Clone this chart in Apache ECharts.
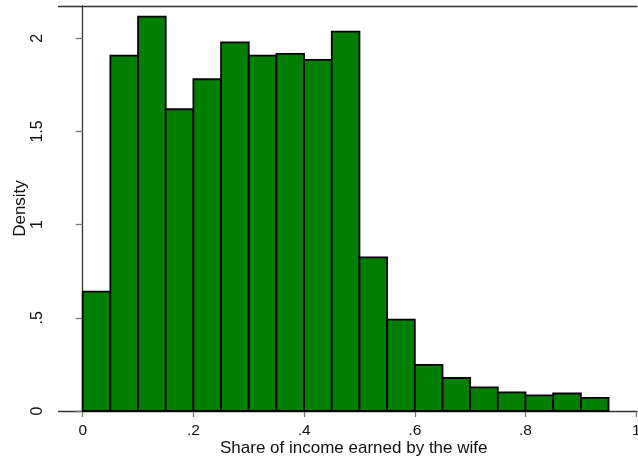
<!DOCTYPE html>
<html>
<head>
<meta charset="utf-8">
<script src="https://cdn.jsdelivr.net/npm/echarts@6/dist/echarts.min.js"></script>
<style>html,body{margin:0;padding:0;background:#fff;}#c{width:638px;height:461px;}</style>
</head>
<body>
<div id="c"></div>
<script>
var binStarts = [0, 0.05, 0.10, 0.15, 0.20, 0.25, 0.30, 0.35, 0.40, 0.45, 0.50, 0.55, 0.60, 0.65, 0.70, 0.75, 0.80, 0.85, 0.90];
var binWidth = 0.05;
var densities = [0.641, 1.907, 2.116, 1.619, 1.780, 1.978, 1.907, 1.916, 1.884, 2.035, 0.824, 0.490, 0.248, 0.177, 0.127, 0.100, 0.084, 0.094, 0.070];
var xTicks = [0, 0.2, 0.4, 0.6, 0.8, 1];
var xTickLabels = ['0', '.2', '.4', '.6', '.8', '1'];
var yTicks = [0, 0.5, 1, 1.5, 2];
var yTickLabels = ['0', '.5', '1', '1.5', '2'];
var xTitle = 'Share of income earned by the wife';
var yTitle = 'Density';

var data = binStarts.map(function (s, i) { return [s, s + binWidth, densities[i]]; });
function lab(vals, labels) { return function (v) { for (var i = 0; i < vals.length; i++) { if (Math.abs(vals[i] - v) < 1e-9) return labels[i]; } return ''; }; }

var chart = echarts.init(document.getElementById('c'), null, {renderer: 'canvas'});
var font = '"Liberation Sans", Arial, sans-serif';
chart.setOption({
  animation: false,
  backgroundColor: '#fff',
  grid: {left: 58.5, right: 1, top: 6, bottom: 50, containLabel: false, outerBoundsMode: 'none'},
  xAxis: [{
    type: 'value', min: -0.0437, max: 1.0014,
    splitLine: {show: false},
    axisLine: {show: true, onZero: false, lineStyle: {color: '#333', width: 1.3}},
    axisTick: {show: true, length: 6, customValues: xTicks, lineStyle: {color: '#777', width: 1.3}},
    axisLabel: {customValues: xTicks, formatter: lab(xTicks, xTickLabels), margin: 12, fontSize: 15.5, color: '#111', fontFamily: font, hideOverlap: false},
    name: xTitle, nameLocation: 'middle', nameGap: 29, nameMoveOverlap: false,
    nameTextStyle: {fontSize: 17, color: '#111', fontFamily: font, padding: [0, 0, 0, 12]}
  }, {
    type: 'value', position: 'top', min: -0.0437, max: 1.0014,
    splitLine: {show: false}, axisTick: {show: false}, axisLabel: {show: false},
    axisLine: {show: true, onZero: false, lineStyle: {color: '#333', width: 1.3}}
  }],
  yAxis: {
    type: 'value', min: 0, max: 2.173,
    splitLine: {show: false},
    axisLine: {show: true, lineStyle: {color: '#333', width: 1.3}},
    axisTick: {show: true, length: 7, customValues: yTicks, lineStyle: {color: '#777', width: 1.3}},
    axisLabel: {customValues: yTicks, formatter: lab(yTicks, yTickLabels), rotate: 90, margin: 13, fontSize: 16, color: '#111', fontFamily: font},
    name: yTitle, nameLocation: 'middle', nameGap: 30, nameRotate: 90, nameMoveOverlap: false,
    nameTextStyle: {fontSize: 17, color: '#111', fontFamily: font}
  },
  series: [{
    type: 'custom',
    xAxisIndex: 0,
    data: data,
    renderItem: function (params, api) {
      var p0 = api.coord([api.value(0), api.value(2)]);
      var p1 = api.coord([api.value(1), 0]);
      return {
        type: 'rect',
        shape: {x: p0[0], y: p0[1], width: p1[0] - p0[0], height: p1[1] - p0[1]},
        style: {fill: '#007f00', stroke: '#000', lineWidth: 1.8}
      };
    }
  }]
});
</script>
</body>
</html>
